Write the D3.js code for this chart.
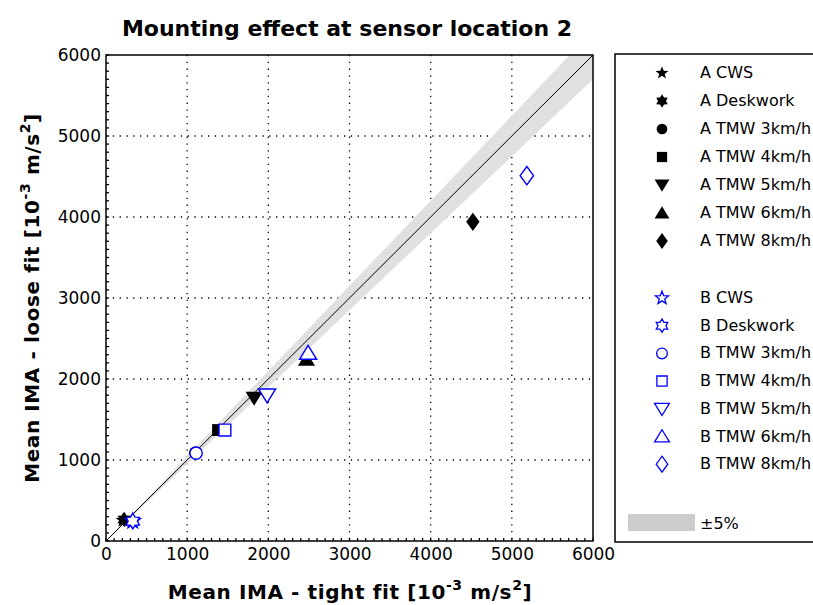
<!DOCTYPE html>
<html>
<head>
<meta charset="utf-8">
<script src="https://cdn.jsdelivr.net/npm/d3@7"></script>
<style>
body { margin: 0; background: #fff; }
text { font-family: "DejaVu Sans", Arial, sans-serif; }
</style>
</head>
<body>
<svg id="chart" width="813" height="605"></svg>
<script>
// data: [tight fit, loose fit]
var seriesNames = ["CWS", "Deskwork", "TMW 3km/h", "TMW 4km/h", "TMW 5km/h", "TMW 6km/h", "TMW 8km/h"];
var symbolKinds = ["star5", "star6", "circle", "square", "down", "up", "diamond"];
var aTight = [210, 225, 1100, 1380, 1825, 2470, 4520];
var aLoose = [255, 265, 1090, 1370, 1765, 2240, 3940];
var bTight = [330, 330, 1110, 1465, 1985, 2490, 5185];
var bLoose = [245, 245, 1085, 1370, 1800, 2320, 4510];
var xTicks = [0, 1000, 2000, 3000, 4000, 5000, 6000];
var yTicks = [0, 1000, 2000, 3000, 4000, 5000, 6000];
var bandPct = 0.05;

var svg = d3.select("#chart");
var pLeft = 106, pRight = 593, pTop = 55, pBottom = 541;

var x = d3.scaleLinear().domain([0, 6000]).range([pLeft, pRight]);
var y = d3.scaleLinear().domain([0, 6000]).range([pBottom, pTop]);

// custom symbol shapes
function starType(n, ratio) {
    return { draw: function(ctx, size) {
        var r = Math.sqrt(size) * 0.75, r2 = r * ratio;
        for (var i = 0; i < n * 2; i++) {
            var a = Math.PI * i / n - Math.PI / 2;
            var rr = i % 2 === 0 ? r : r2;
            if (i === 0) ctx.moveTo(rr * Math.cos(a), rr * Math.sin(a));
            else ctx.lineTo(rr * Math.cos(a), rr * Math.sin(a));
        }
        ctx.closePath();
    }};
}
function triType(dir) {
    return { draw: function(ctx, size) {
        var h = Math.sqrt(size) * 0.55;
        ctx.moveTo(0, -h * dir);
        ctx.lineTo(h * 1.1, h * 0.8 * dir);
        ctx.lineTo(-h * 1.1, h * 0.8 * dir);
        ctx.closePath();
    }};
}
var diamondType = { draw: function(ctx, size) {
    var w = Math.sqrt(size) * 0.45, h = Math.sqrt(size) * 0.62;
    ctx.moveTo(0, -h); ctx.lineTo(w, 0); ctx.lineTo(0, h); ctx.lineTo(-w, 0); ctx.closePath();
}};
var types = {
    star5: starType(5, 0.42),
    star6: starType(6, 0.6),
    circle: d3.symbolCircle,
    square: d3.symbolSquare,
    down: triType(-1),
    up: triType(1),
    diamond: diamondType
};
var sizes = { star5: 110, star6: 105, circle: 120, square: 140, down: 200, up: 200, diamond: 220 };
function sym(k, f) { return d3.symbol().type(types[k]).size(sizes[k] * (f || 1))(); }

// title
svg.append("text")
    .attr("x", 347).attr("y", 36)
    .attr("text-anchor", "middle")
    .style("font-size", "22px").style("font-weight", "bold")
    .text("Mounting effect at sensor location 2");

// clip for band
svg.append("clipPath").attr("id", "plotclip")
    .append("rect").attr("x", pLeft).attr("y", pTop).attr("width", pRight - pLeft).attr("height", pBottom - pTop);

// grid
var grid = svg.append("g");
grid.selectAll(".vg").data(xTicks.slice(1, -1)).enter().append("line")
    .attr("x1", function(d) { return x(d); }).attr("x2", function(d) { return x(d); })
    .attr("y1", pTop).attr("y2", pBottom)
    .attr("stroke", "#000").attr("stroke-width", 1.3).attr("stroke-dasharray", "1.3,5.5");
grid.selectAll(".hg").data(yTicks.slice(1, -1)).enter().append("line")
    .attr("y1", function(d) { return y(d); }).attr("y2", function(d) { return y(d); })
    .attr("x1", pLeft).attr("x2", pRight)
    .attr("stroke", "#000").attr("stroke-width", 1.3).attr("stroke-dasharray", "1.3,5.5");

// +-5% band
var bandX = [0, 6500];
var bandPts = bandX.map(function(d) { return [x(d), y(d * (1 + bandPct))]; })
    .concat(bandX.slice().reverse().map(function(d) { return [x(d), y(d * (1 - bandPct))]; }));
svg.append("path")
    .attr("clip-path", "url(#plotclip)")
    .attr("d", d3.line()(bandPts) + "Z")
    .attr("fill", "#e0e0e0");

// identity line
svg.append("line")
    .attr("x1", x(0)).attr("y1", y(0)).attr("x2", x(6000)).attr("y2", y(6000))
    .attr("stroke", "#000").attr("stroke-width", 1);

// frame
svg.append("rect")
    .attr("x", pLeft).attr("y", pTop).attr("width", pRight - pLeft).attr("height", pBottom - pTop)
    .attr("fill", "none").attr("stroke", "#000").attr("stroke-width", 1.5);

// axes
var xAxis = d3.axisBottom(x).tickValues(xTicks).tickSize(0).tickPadding(7).tickFormat(d3.format("d"));
var yAxis = d3.axisLeft(y).tickValues(yTicks).tickSize(0).tickPadding(5).tickFormat(d3.format("d"));
var gx = svg.append("g").attr("transform", "translate(0," + pBottom + ")").call(xAxis);
var gy = svg.append("g").attr("transform", "translate(" + pLeft + ",0)").call(yAxis);
[gx, gy].forEach(function(g) {
    g.select(".domain").remove();
    g.selectAll("text").style("font-size", "17px").style("font-family", "'DejaVu Sans', Arial, sans-serif").attr("fill", "#000");
});

// minor ticks (inside, every 100)
var minor = d3.range(0, 6001, 100);
svg.append("g").selectAll("line").data(minor).enter().append("line")
    .attr("x1", function(d) { return x(d); }).attr("x2", function(d) { return x(d); })
    .attr("y1", pBottom).attr("y2", pBottom - 3)
    .attr("stroke", "#000").attr("stroke-width", 1.3);
svg.append("g").selectAll("line").data(minor).enter().append("line")
    .attr("y1", function(d) { return y(d); }).attr("y2", function(d) { return y(d); })
    .attr("x1", pLeft).attr("x2", pLeft + 3)
    .attr("stroke", "#000").attr("stroke-width", 1.3);

// axis labels
function axisLabel(sel) {
    sel.attr("text-anchor", "middle")
        .style("font-size", "20px").style("font-weight", "bold").style("letter-spacing", "0.6px");
    sel.append("tspan").text("Mean IMA - " + sel.datum() + " fit [10");
    sel.append("tspan").attr("dy", -9).style("font-size", "14px").text("-3");
    sel.append("tspan").attr("dy", 9).text(" m/s");
    sel.append("tspan").attr("dy", -9).style("font-size", "14px").text("2");
    sel.append("tspan").attr("dy", 9).text("]");
}
svg.append("text").datum("tight")
    .attr("x", 350).attr("y", 599)
    .call(axisLabel);
svg.append("text").datum("loose")
    .attr("transform", "translate(39,298) rotate(-90)")
    .call(axisLabel);

// points: A (filled black) then B (blue outline, white inside)
var aData = seriesNames.map(function(n, i) { return { kind: symbolKinds[i], tx: aTight[i], ty: aLoose[i] }; });
var bData = seriesNames.map(function(n, i) { return { kind: symbolKinds[i], tx: bTight[i], ty: bLoose[i] }; });

svg.append("g").selectAll("path").data(aData).enter().append("path")
    .attr("transform", function(d) { return "translate(" + x(d.tx) + "," + y(d.ty) + ")"; })
    .attr("d", function(d) { return sym(d.kind); })
    .attr("fill", "#000");
svg.append("g").selectAll("path").data(bData).enter().append("path")
    .attr("transform", function(d) { return "translate(" + x(d.tx) + "," + y(d.ty) + ")"; })
    .attr("d", function(d) { return sym(d.kind); })
    .attr("fill", "#fff").attr("stroke", "#0000ff").attr("stroke-width", 1.4);

// legend
var lg = svg.append("g");
lg.append("rect").attr("x", 615).attr("y", 54).attr("width", 210).attr("height", 488)
    .attr("fill", "#fff").attr("stroke", "#000").attr("stroke-width", 1.5);

var rowA = seriesNames.map(function(n, i) { return { label: "A " + n, kind: symbolKinds[i], b: false, yy: 73 + i * 28 }; });
var rowB = seriesNames.map(function(n, i) { return { label: "B " + n, kind: symbolKinds[i], b: true, yy: 298 + i * 27.7 }; });
var rows = rowA.concat(rowB);

var li = lg.selectAll(".li").data(rows).enter().append("g")
    .attr("transform", function(d) { return "translate(662," + d.yy + ")"; });
li.append("path")
    .attr("d", function(d) { return sym(d.kind, 0.75); })
    .attr("fill", function(d) { return d.b ? "none" : "#000"; })
    .attr("stroke", function(d) { return d.b ? "#0000ff" : "none"; })
    .attr("stroke-width", 1.3);
li.append("text")
    .attr("x", 38).attr("y", 5)
    .style("font-size", "16px")
    .text(function(d) { return d.label; });

lg.append("rect").attr("x", 628).attr("y", 514).attr("width", 67).attr("height", 17).attr("fill", "#cccccc");
lg.append("text").attr("x", 700).attr("y", 529).style("font-size", "16px").text("\u00b15%");
</script>
</body>
</html>
